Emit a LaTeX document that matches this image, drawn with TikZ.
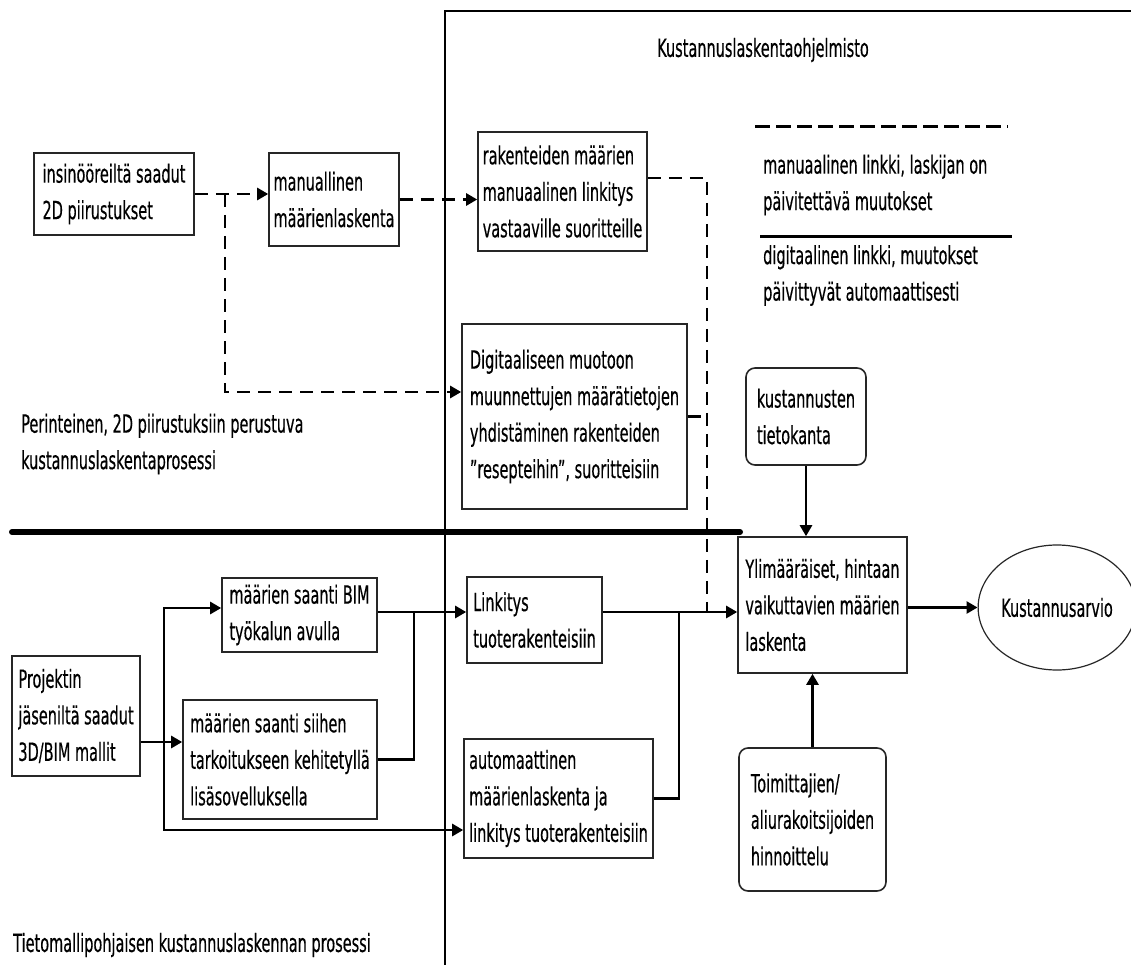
\documentclass[tikz,border=0pt]{standalone}
\usepackage{fontspec}
\setmainfont{DejaVu Sans}[FakeStretch=0.58,FakeBold=0.4]
\usetikzlibrary{arrows.meta,shapes.geometric}
\begin{document}
\begin{tikzpicture}[x=1pt,y=-1pt, font=\fontsize{25}{36.5}\selectfont,
  box/.style={draw=black!85, line width=1.6pt, align=left, inner sep=0pt, anchor=center},
  rbox/.style={box, rounded corners=9pt},
  conn/.style={line width=2.6pt},
  dconn/.style={line width=2.6pt, dash pattern=on 13pt off 8pt},
  arr/.style={-{Triangle[length=11pt,width=12pt]}},
  lbl/.style={anchor=west, align=left, inner sep=0pt}]
\useasboundingbox (0,0) rectangle (1131,965);

% region lines
\draw[line width=1.2pt] (445,965) -- (445,11) -- (1131,11);
\draw[line width=6pt, line cap=round] (12,532) -- (740,532);

% nodes
\node[box, minimum width=160pt, minimum height=82pt] (A) at (114,194) {insinööreiltä saadut\\2D piirustukset};
\node[box, minimum width=130pt, minimum height=93pt] (B) at (334,199.5) {manuallinen\\määrienlaskenta};
\node[box, minimum width=169pt, minimum height=119pt] (C) at (562.5,191.5) {rakenteiden määrien\\manuaalinen linkitys\\vastaaville suoritteille};
\node[box, minimum width=225pt, minimum height=185pt] (D) at (574.5,416.5) {Digitaaliseen muotoon\\muunnettujen määrätietojen\\yhdistäminen rakenteiden\\\char34resepteihin\char34, suoritteisiin};
\node[rbox, minimum width=120pt, minimum height=97pt] (K) at (806,416.5) {kustannusten\\tietokanta};
\node[box, minimum width=169pt, minimum height=136pt] (J) at (822.5,605) {Ylimääräiset, hintaan\\vaikuttavien määrien\\laskenta};
\node[draw=black!85, line width=1.2pt, ellipse, minimum width=147pt, minimum height=125pt, inner sep=0pt] (M) at (1057,607.5) {Kustannusarvio};
\node[rbox, minimum width=147pt, minimum height=143pt] (L) at (812.5,819.5) {Toimittajien/\\aliurakoitsijoiden\\hinnoittelu};
\node[box, minimum width=155pt, minimum height=74pt] (E) at (299.5,615) {määrien saanti BIM\\työkalun avulla};
\node[box, minimum width=128pt, minimum height=120pt] (F) at (76,716) {Projektin\\jäseniltä saadut\\3D/BIM mallit};
\node[box, minimum width=194pt, minimum height=119pt] (G) at (280,759.5) {määrien saanti siihen\\tarkoitukseen kehitetyllä\\lisäsovelluksella};
\node[box, minimum width=135pt, minimum height=86pt] (I) at (534.5,620) {Linkitys\\tuoterakenteisiin};
\node[box, minimum width=189pt, minimum height=119pt] (H) at (558.5,798.5) {automaattinen\\määrienlaskenta ja\\linkitys tuoterakenteisiin};

% text labels
\node[lbl] (t1) at (657,50) {Kustannuslaskentaohjelmisto};
\node[lbl] (t2) at (763,185) {manuaalinen linkki, laskijan on\\päivitettävä muutokset};
\node[lbl] (t3) at (763,275.5) {digitaalinen linkki, muutokset\\päivittyvät automaattisesti};
\node[lbl] (t4) at (21,444) {Perinteinen, 2D piirustuksiin perustuva\\kustannuslaskentaprosessi};
\node[lbl] (t5) at (13,945) {Tietomallipohjaisen kustannuslaskennan prosessi};

% legend lines
\draw[line width=3pt, dash pattern=on 15pt off 6pt] (755,127) -- (1008,127);
\draw[line width=3pt] (760,237) -- (1012,237);

% coordinates
\coordinate (br1) at (225,194);
\coordinate (d1) at (0,392);
\coordinate (c1) at (0,178);
\coordinate (v1) at (707,612);
\coordinate (yl) at (0,612);
\coordinate (j1) at (414,612);
\coordinate (j2) at (679,612);
\coordinate (yf) at (0,742);
\coordinate (b1) at (164,742);
\coordinate (ye) at (0,608);
\coordinate (yh) at (0,830);

% dashed connectors
\draw[dconn,arr] (A.east) -- (A.east -| B.west);
\draw[dconn,arr] (br1) |- (D.west |- d1);
\draw[dconn,arr] (B.east) -- (B.east -| C.west);
\draw[dconn] (C.east |- c1) -| (v1);
\draw[dconn] (D.east) -- (D.east -| v1);

% solid connectors
\draw[conn,arr] (E.east |- yl) -- (I.west |- yl);
\draw[conn] (G.east) -| (j1);
\draw[conn,arr] (I.east |- yl) -- (J.west |- yl);
\draw[conn] (H.east) -| (j2);
\draw[conn,arr] (F.east |- yf) -- (G.west |- yf);
\draw[conn,arr] (b1) |- (E.west |- ye);
\draw[conn,arr] (b1) |- (H.west |- yh);
\draw[conn,arr] (K.south) -- (K.south |- J.north);
\draw[conn,arr] (L.north) -- (L.north |- J.south);
\draw[conn,arr] (J.east |- M.west) -- (M.west);
\end{tikzpicture}
\end{document}
